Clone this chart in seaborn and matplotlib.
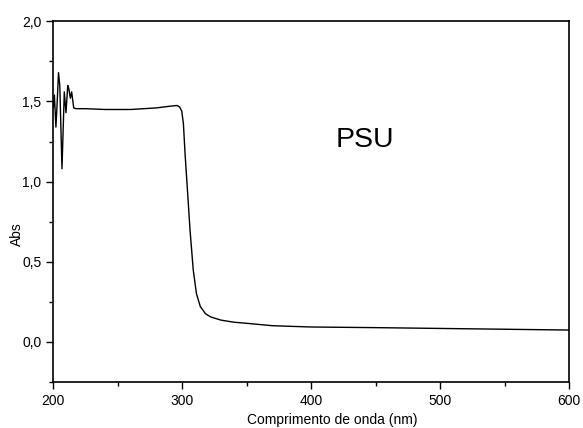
import matplotlib
matplotlib.use('Agg')
import matplotlib.pyplot as plt
from matplotlib.ticker import FuncFormatter, MultipleLocator
import seaborn as sns
import pandas as pd

# espectro UV-Vis
comprimento = [200, 200.8, 202, 203, 204, 205, 206.7, 208.5, 209.8, 211.2, 212, 213.2,
               214.2, 215.8, 217.6, 225, 240, 260, 280, 290, 296, 298, 299.6, 300.9,
               302.2, 304, 306, 308.5, 311, 314, 318, 322, 330, 340, 350, 370, 400,
               450, 500, 550, 600]
absorb = [1.46, 1.54, 1.34, 1.50, 1.68, 1.60, 1.08, 1.56, 1.43, 1.60, 1.58, 1.52,
          1.56, 1.46, 1.455, 1.455, 1.45, 1.45, 1.46, 1.47, 1.475, 1.465, 1.44, 1.36,
          1.17, 0.95, 0.70, 0.45, 0.30, 0.22, 0.175, 0.155, 0.135, 0.122, 0.115, 0.10,
          0.092, 0.088, 0.083, 0.078, 0.073]

df = pd.DataFrame({'nm': comprimento, 'abs': absorb})

sns.set_style('ticks')
plt.rcParams['font.family'] = ['Liberation Sans', 'DejaVu Sans']
plt.rcParams['text.color'] = 'black'

fig = plt.figure(figsize=(5.83, 4.28), dpi=100)
ax = fig.add_axes([0.0915, 0.108, 0.8845, 0.842])
sns.lineplot(data=df, x='nm', y='abs', color='black', linewidth=1, ax=ax)

ax.set_xlim(200, 600)
ax.set_ylim(-0.25, 2.0)
ax.xaxis.set_major_locator(MultipleLocator(100))
ax.xaxis.set_minor_locator(MultipleLocator(50))
ax.yaxis.set_major_locator(MultipleLocator(0.5))
ax.yaxis.set_minor_locator(MultipleLocator(0.25))
ax.yaxis.set_major_formatter(FuncFormatter(lambda v, p: f'{v:.1f}'.replace('.', ',')))
ax.tick_params(which='major', direction='out', length=5, width=1, labelsize=10,
               color='black', labelcolor='black')
ax.tick_params(which='minor', direction='out', length=3, width=1, color='black')
for s in ax.spines.values():
    s.set_linewidth(1.2)
    s.set_color('black')

ax.set_xlabel('Comprimento de onda (nm)', fontsize=10, color='black')
ax.set_ylabel('Abs', fontsize=10, color='black')
ax.xaxis.set_label_coords(0.54, -0.088)
ax.yaxis.set_label_coords(-0.056, 0.411)
ax.text(0.604, 0.67, 'PSU', transform=ax.transAxes, fontsize=20.5,
        ha='center', va='center', color='black')

fig.savefig('out.png', dpi=100)
